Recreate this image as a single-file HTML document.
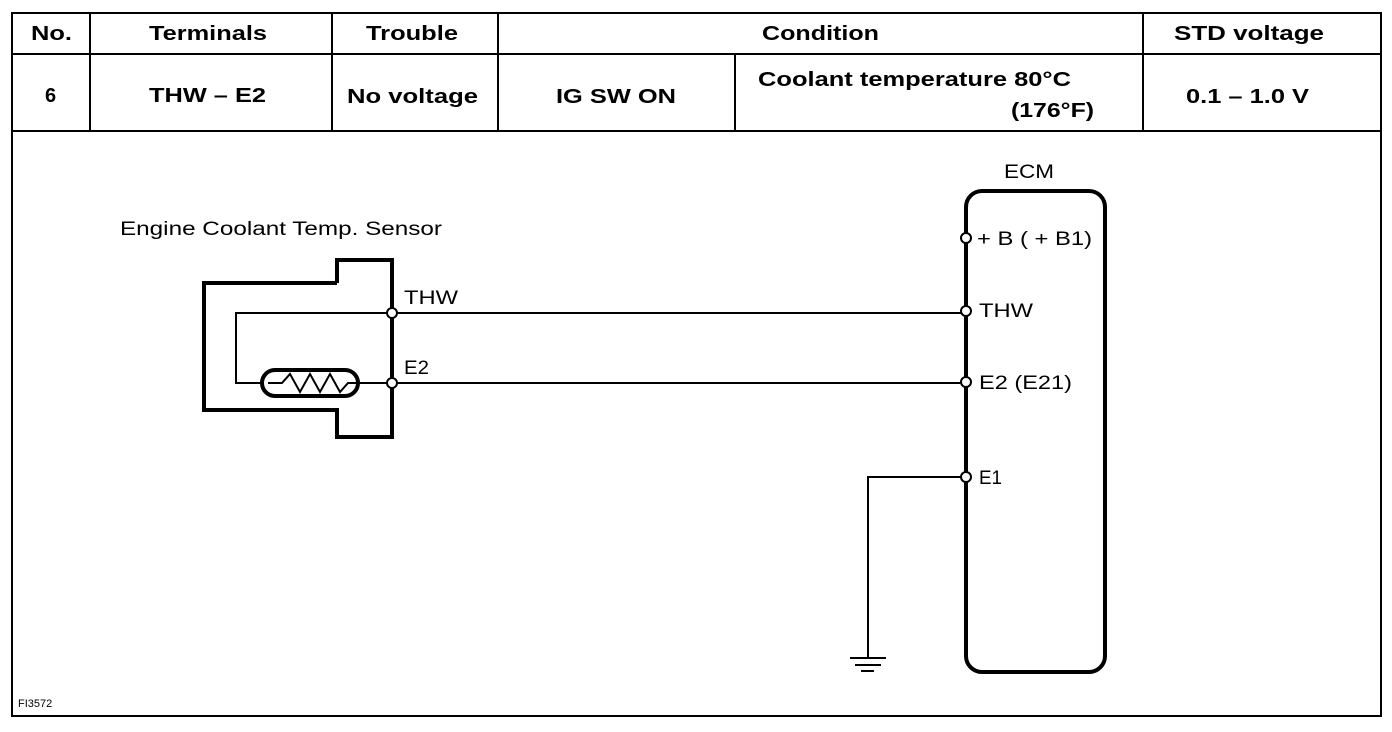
<!DOCTYPE html>
<html><head><style>
body{margin:0;background:#fff;}
svg{display:block;}
text{font-family:"Liberation Sans",Arial,sans-serif;font-weight:bold;fill:#000;}
.n{font-weight:normal;}
</style></head><body>
<svg width="1392" height="732" viewBox="0 0 1392 732">
<g stroke="#000" stroke-width="2" fill="none">
<rect x="12" y="13" width="1369" height="703"/>
<line x1="12" y1="54" x2="1381" y2="54"/>
<line x1="12" y1="131" x2="1381" y2="131"/>
<line x1="90" y1="13" x2="90" y2="131"/>
<line x1="332" y1="13" x2="332" y2="131"/>
<line x1="498" y1="13" x2="498" y2="131"/>
<line x1="735" y1="54" x2="735" y2="131"/>
<line x1="1143" y1="13" x2="1143" y2="131"/>
</g>
<g font-size="20">
<text x="31" y="40" textLength="41" lengthAdjust="spacingAndGlyphs">No.</text>
<text x="149" y="40" textLength="118" lengthAdjust="spacingAndGlyphs">Terminals</text>
<text x="366" y="40" textLength="92" lengthAdjust="spacingAndGlyphs">Trouble</text>
<text x="762" y="40" textLength="117" lengthAdjust="spacingAndGlyphs">Condition</text>
<text x="1174" y="40" textLength="150" lengthAdjust="spacingAndGlyphs">STD voltage</text>
<text x="45" y="102">6</text>
<text x="149" y="102" textLength="117" lengthAdjust="spacingAndGlyphs">THW – E2</text>
<text x="347" y="103" textLength="131" lengthAdjust="spacingAndGlyphs">No voltage</text>
<text x="556" y="103" textLength="120" lengthAdjust="spacingAndGlyphs">IG SW ON</text>
<text x="1186" y="103" textLength="123" lengthAdjust="spacingAndGlyphs">0.1 – 1.0 V</text>
<text x="758" y="86" textLength="313" lengthAdjust="spacingAndGlyphs">Coolant temperature 80°C</text>
<text x="1011" y="117" textLength="83" lengthAdjust="spacingAndGlyphs">(176°F)</text>
</g>
<g stroke="#000" fill="none">
<polyline stroke-width="4" points="337,283 204,283 204,410 337,410 337,437 392,437 392,260 337,260 337,283"/>
<polyline stroke-width="2" points="262,383 236,383 236,313 966,313"/>
<line stroke-width="2" x1="358" y1="383" x2="966" y2="383"/>
<rect stroke-width="4" x="262" y="370" width="96" height="26" rx="13"/>
<polyline stroke-width="2" points="268,383 282,383 290,374 300,392 310,374 320,392 330,374 340,392 348,383 358,383"/>
<rect stroke-width="4" x="966" y="191" width="139" height="481" rx="16"/>
<polyline stroke-width="2" points="966,477 868,477 868,658"/>
<line stroke-width="2" x1="850" y1="658" x2="886" y2="658"/>
<line stroke-width="2" x1="855" y1="665" x2="881" y2="665"/>
<line stroke-width="2" x1="861" y1="671" x2="874" y2="671"/>
</g>
<g stroke="#000" stroke-width="2" fill="#fff">
<circle cx="392" cy="313" r="5"/><circle cx="392" cy="383" r="5"/>
<circle cx="966" cy="238" r="5"/><circle cx="966" cy="311" r="5"/>
<circle cx="966" cy="382" r="5"/><circle cx="966" cy="477" r="5"/>
</g>
<g font-size="19">
<text class="n" x="120" y="235" textLength="322" lengthAdjust="spacingAndGlyphs">Engine Coolant Temp. Sensor</text>
<text class="n" x="404" y="304" textLength="54" lengthAdjust="spacingAndGlyphs">THW</text>
<text class="n" x="404" y="374" textLength="25" lengthAdjust="spacingAndGlyphs">E2</text>
<text class="n" x="1004" y="178" textLength="50" lengthAdjust="spacingAndGlyphs">ECM</text>
<text class="n" x="977" y="245" textLength="115" lengthAdjust="spacingAndGlyphs">+ B  ( + B1)</text>
<text class="n" x="979" y="317" textLength="54" lengthAdjust="spacingAndGlyphs">THW</text>
<text class="n" x="979" y="389" textLength="93" lengthAdjust="spacingAndGlyphs">E2  (E21)</text>
<text class="n" x="979" y="484" textLength="23" lengthAdjust="spacingAndGlyphs">E1</text>
<text class="n" x="18" y="707" font-size="11">FI3572</text>
</g>
</svg>
</body></html>
